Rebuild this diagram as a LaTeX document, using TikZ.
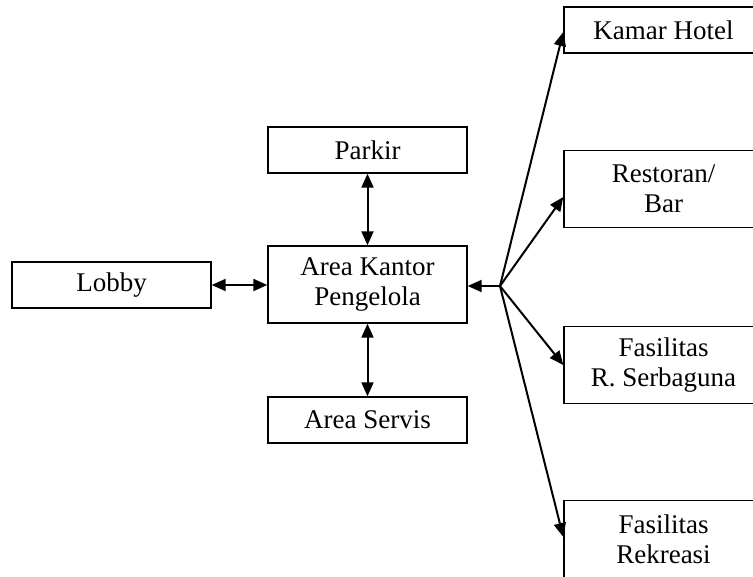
\documentclass[tikz,border=0pt]{standalone}
\usepackage{fontspec}
\setmainfont{Liberation Serif}
\usetikzlibrary{arrows.meta,calc}

\tikzset{
  box/.style={draw, line width=1.4pt, minimum width=199pt, align=center,
    inner sep=0pt, font=\fontsize{27}{30}\selectfont},
  lowbox/.style={box, minimum height=46pt},
  tallbox/.style={box, minimum height=77pt},
  tip/.style={Triangle[length=14pt,width=12pt]},
  link/.style={line width=2pt, -{Triangle[length=14pt,width=12pt]}},
  dlink/.style={line width=2pt, {Triangle[length=14pt,width=12pt]}-{Triangle[length=14pt,width=12pt]}}
}

\begin{document}
\begin{tikzpicture}[x=1pt,y=-1pt]
  \useasboundingbox (0,0) rectangle (753,577);
  \clip (0,0) rectangle (753,577);

  % central column
  \node[lowbox]  (parkir) at (367.5,150)   {Parkir};
  \node[tallbox] (kantor) at (367.5,284.5) {Area Kantor\\Pengelola};
  \node[lowbox]  (servis) at (367.5,420)   {Area Servis};
  \node[lowbox]  (lobby)  at (111.5,285)   {Lobby};

  % facilities on the right
  \node[lowbox]  (kamar)     at (663.5,30)  {Kamar Hotel};
  \node[tallbox] (restoran)  at (663.5,189) {Restoran/\\Bar};
  \node[tallbox] (serbaguna) at (663.5,365) {Fasilitas\\R. Serbaguna};
  \node[tallbox] (rekreasi)  at (663.5,539) {Fasilitas\\Rekreasi};

  % branching point
  \coordinate (hub) at (500,286);

  \draw[dlink] (parkir) -- (kantor);
  \draw[dlink] (kantor) -- (servis);
  \draw[dlink] (lobby.east) -- (lobby.east -| kantor.west);

  \draw[link] (hub) -- (hub -| kantor.east);
  \draw[link] (hub) -- ($(kamar.west)+(0,2)$);
  \draw[link] (hub) -- ($(restoran.west)+(0,8)$);
  \draw[link] (hub) -- (serbaguna.west);
  \draw[link] (hub) -- ($(rekreasi.west)+(0,-2)$);
\end{tikzpicture}
\end{document}
